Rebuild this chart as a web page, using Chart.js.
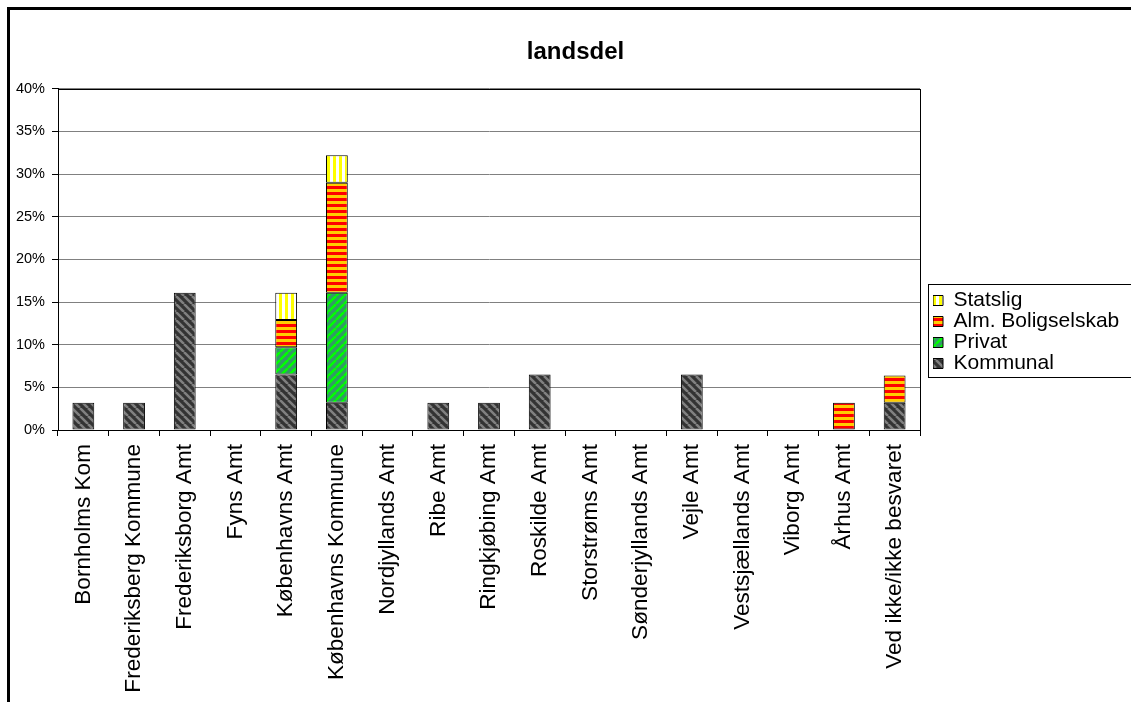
<!DOCTYPE html>
<html>
<head>
<meta charset="utf-8">
<script src="https://cdn.jsdelivr.net/npm/chart.js@4/dist/chart.umd.min.js"></script>
<style>
  html, body { margin: 0; padding: 0; overflow: hidden; background: #fff; }
  #wrap { position: absolute; left: 0; top: 0; width: 1151px; height: 702px; }
  #frame { position: absolute; left: 7px; top: 7px; width: 1300px; height: 900px; border: 3px solid #000; pointer-events: none; }
</style>
</head>
<body>
<div id="wrap"><canvas id="chart"></canvas></div>
<div id="frame"></div>
<script>
const categories = [
  'Bornholms Kom',
  'Frederiksberg Kommune',
  'Frederiksborg Amt',
  'Fyns Amt',
  'Københavns Amt',
  'Københavns Kommune',
  'Nordjyllands Amt',
  'Ribe Amt',
  'Ringkjøbing Amt',
  'Roskilde Amt',
  'Storstrøms Amt',
  'Sønderjyllands Amt',
  'Vejle Amt',
  'Vestsjællands Amt',
  'Viborg Amt',
  'Århus Amt',
  'Ved ikke/ikke besvaret',
]
// percent values per category
const kommunal = [3.2, 3.2, 16.1, 0, 6.5, 3.2, 0, 3.2, 3.2, 6.5, 0, 0, 6.5, 0, 0, 0, 3.2]
const privat = [0, 0, 0, 0, 3.2, 12.9, 0, 0, 0, 0, 0, 0, 0, 0, 0, 0, 0]
const almBolig = [0, 0, 0, 0, 3.2, 12.9, 0, 0, 0, 0, 0, 0, 0, 0, 0, 3.2, 3.2]
const statslig = [0, 0, 0, 0, 3.2, 3.2, 0, 0, 0, 0, 0, 0, 0, 0, 0, 0, 0]
const yTicks = [0, 5, 10, 15, 20, 25, 30, 35, 40]

function makePattern (w, h, draw) {
  const c = document.createElement('canvas')
  c.width = w
  c.height = h
  const p = c.getContext('2d')
  draw(p, w, h)
  return p.createPattern(c, 'repeat')
}

function diagonal (bg, fg, down) {
  return makePattern(8, 8, function (p, w, h) {
    p.fillStyle = bg
    p.fillRect(0, 0, w, h)
    p.strokeStyle = fg
    p.lineWidth = 2.5
    p.beginPath()
    for (let k = -1; k <= 1; k++) {
      if (down) {
        p.moveTo(k * w, 0)
        p.lineTo(k * w + w, h)
      } else {
        p.moveTo(k * w, h)
        p.lineTo(k * w + w, 0)
      }
    }
    p.stroke()
  })
}

const kommunalFill = diagonal('#333333', '#808080', true)
const privatFill = diagonal('#339966', '#00ff00', false)
const almFill = makePattern(1, 6, function (p) {
  p.fillStyle = '#ff0000'
  p.fillRect(0, 0, 1, 3)
  p.fillStyle = '#ffcc00'
  p.fillRect(0, 3, 1, 3)
})
const statsligFill = makePattern(6, 1, function (p) {
  p.fillStyle = '#ffffff'
  p.fillRect(0, 0, 3, 1)
  p.fillStyle = '#ffff00'
  p.fillRect(3, 0, 3, 1)
})

function series (label, data, fill) {
  return {
    label: label,
    data: data,
    backgroundColor: fill,
    borderColor: '#000',
    borderWidth: 1,
    borderSkipped: false,
    categoryPercentage: 1,
    barPercentage: 0.43,
  }
}

const frames = {
  id: 'frames',
  afterLayout (chart) {
    // put legend where the original has it
    const lg = chart.legend
    lg.left = 933
    lg.right = lg.left + lg.width
    lg.top = 290
    lg.bottom = 380
    lg.height = 90
  },
  beforeDatasetsDraw (chart) {
    const a = chart.chartArea
    const ctx = chart.ctx
    ctx.save()
    ctx.strokeStyle = '#000'
    ctx.lineWidth = 1
    ctx.strokeRect(Math.round(a.left) + 0.5, Math.round(a.top) + 0.5, Math.round(a.right - a.left), Math.round(a.bottom - a.top))
    ctx.restore()
  },
  afterDraw (chart) {
    const lg = chart.legend
    const ctx = chart.ctx
    ctx.save()
    ctx.strokeStyle = '#000'
    ctx.lineWidth = 1
    ctx.strokeRect(Math.round(lg.left) - 4.5, Math.round(lg.top) - 5.5, 400, 93)
    ctx.restore()
  },
}

Chart.defaults.font.family = 'Arial, "Liberation Sans", sans-serif'
Chart.defaults.color = '#000'

const config = {
  type: 'bar',
  data: {
    labels: categories,
    datasets: [
      series('Kommunal', kommunal, kommunalFill),
      series('Privat', privat, privatFill),
      series('Alm. Boligselskab', almBolig, almFill),
      series('Statslig', statslig, statsligFill),
    ],
  },
  plugins: [frames],
  options: {
    responsive: true,
    maintainAspectRatio: false,
    animation: false,
    layout: {
      padding: 0,
    },
    plugins: {
      title: {
        display: true,
        text: 'landsdel',
        color: '#000',
        font: { size: 24, weight: 'bold' },
        padding: { top: 38, bottom: 22 },
      },
      legend: {
        position: 'chartArea',
        align: 'start',
        reverse: true,
        labels: {
          boxWidth: 10,
          boxHeight: 10,
          padding: 0,
          color: '#000',
          font: { size: 21 },
        },
      },
      tooltip: { enabled: false },
    },
    scales: {
      x: {
        stacked: true,
        offset: true,
        grid: {
          offset: true,
          drawOnChartArea: false,
          tickLength: 6,
          tickColor: '#000',
        },
        border: { color: '#000' },
        ticks: {
          autoSkip: false,
          maxRotation: 90,
          minRotation: 90,
          padding: 8,
          font: { size: 22.6 },
        },
        afterFit (scale) {
          scale.height = 272
        },
      },
      y: {
        stacked: true,
        min: 0,
        max: 40,
        afterBuildTicks (scale) {
          scale.ticks = yTicks.map(function (v) { return { value: v } })
        },
        grid: {
          color: '#808080',
          tickLength: 6,
          tickColor: '#000',
        },
        border: { color: '#000' },
        ticks: {
          padding: 7,
          font: { size: 14.5 },
          callback: function (v) { return v + '%' },
        },
        afterFit (scale) {
          scale.width = 58
        },
      },
      // empty axis that only reserves the room on the right for the legend
      room: {
        type: 'linear',
        position: 'right',
        grid: { display: false },
        border: { display: false },
        ticks: { display: false },
        afterFit (scale) {
          scale.width = 231
        },
      },
    },
  },
}

const ctx = document.getElementById('chart').getContext('2d')
const myChart = new Chart(ctx, config)
</script>
</body>
</html>
